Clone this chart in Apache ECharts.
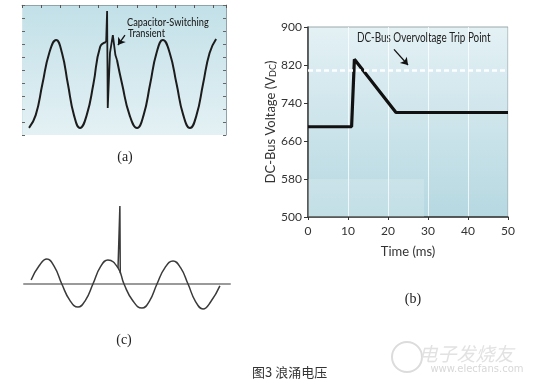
<!DOCTYPE html>
<html>
<head>
<meta charset="utf-8">
<script src="https://cdn.jsdelivr.net/npm/echarts@6/dist/echarts.min.js"></script>
<style>
html,body{margin:0;padding:0;background:#fff;}
#chart{width:535px;height:385px;}
</style>
</head>
<body>
<div id="chart"></div>
<script>
// ---- Panel (a): capacitor-switching transient (time ms, relative amplitude 0..100) ----
const aWaveT = [2.2, 4.3, 6.4, 8.55, 10.7, 12.55, 14.4, 16.3, 18.2, 20.3, 22.4, 24.5, 26.4, 28.0,
                29.8, 31.4, 33.75, 36.1, 38.15, 40.2, 42.2, 44.2, 46.35, 48.5, 50.6, 52.7, 54.75, 56.8, 58.85, 60.9];
const aWaveV = [5.4, 15.3, 39.2, 63.1, 73.1, 63.1, 39.2, 15.3, 5.4, 15.3, 39.2, 67.7, 71.5, null,
                57.7, 39.2, 15.3, 5.4, 15.3, 39.2, 63.1, 73.1, 63.1, 39.2, 15.3, 5.4, 15.3, 39.2, 63.1, 73.8];
const aSpikeT = [26.4, 26.7, 26.9, 27.6, 28.5, 29.3, 29.8];
const aSpikeV = [71.5, 95.4, 20.8, 63.1, 76.9, 61.5, 57.7];
const aArrow = [[32.3, 76.9], [30.1, 69.2]];
const aLabel = ['Capacitor-Switching', 'Transient'];

// ---- Panel (b): DC-bus voltage ----
const bTime = [0, 10.9, 11.6, 22, 50];
const bVolt = [690, 690, 832, 720, 720];
const bTrip = 810;
const bArrow = [[21.5, 853], [25, 820]];
const bXTicks = [0, 10, 20, 30, 40, 50];
const bYTicks = [500, 580, 660, 740, 820, 900];
const bTripLabel = 'DC-Bus Overvoltage Trip Point';

// ---- Panel (c): surge on sine ----
const cWaveT = [1.9, 4.0, 6.1, 8.1, 10.1, 12.25, 14.4, 16.4, 18.4, 20.4, 22.4, 25.1, 26.7,
                29.1, 31.5, 33.5, 35.5, 37.65, 39.8, 41.8, 43.8, 45.8, 47.8, 49.9, 52.3];
const cWaveV = [0.17, 0.75, 1.04, 0.72, 0, -0.68, -0.96, -0.68, 0, 0.71, 1.0, 0.67, 0,
                -0.71, -1.0, -0.71, 0, 0.68, 0.96, 0.68, 0, -0.73, -1.04, -0.73, -0.08];
const cSpikeT = [25.1, 25.6, 25.7];
const cSpikeV = [0.67, 3.25, 0.45];

const caption = '图3 浪涌电压';

const zip = (xs, ys) => xs.map((x, i) => [x, ys[i] === null ? '-' : ys[i]]);

const chart = echarts.init(document.getElementById('chart'), null, {renderer: 'canvas'});
const sans = 'Lato';

const option = {
  animation: false,
  grid: [
    {left: 22, top: 5, width: 204, height: 130, show: true, borderWidth: 0,
     backgroundColor: {type: 'linear', x: 0, y: 0, x2: 0, y2: 1,
       colorStops: [{offset: 0, color: '#c2e0e8'}, {offset: 1, color: '#e4f1f4'}]}},
    {left: 308, top: 27, width: 200, height: 190, show: true, borderColor: '#9aa8ac', borderWidth: 1,
     backgroundColor: {type: 'linear', x: 0, y: 0, x2: 0, y2: 1,
       colorStops: [{offset: 0, color: '#e4f1f5'}, {offset: 1, color: '#b6d8e1'}]}},
    {left: 24, top: 200, width: 206, height: 120}
  ],
  xAxis: [
    {gridIndex: 0, type: 'value', position: 'top', min: 0, max: 64, interval: 6,
     axisLine: {onZero: false, lineStyle: {color: '#8fa3aa'}},
     axisTick: {inside: true, length: 3, lineStyle: {color: '#555'}},
     axisLabel: {show: false}, splitLine: {show: false}},
    {gridIndex: 1, type: 'value', min: bXTicks[0], max: bXTicks[bXTicks.length - 1], interval: bXTicks[1] - bXTicks[0],
     name: 'Time (ms)', nameLocation: 'middle', nameGap: 28,
     nameTextStyle: {fontFamily: sans, fontSize: 13, color: '#333'},
     axisLine: {onZero: false, lineStyle: {color: '#333', width: 1.5}},
     axisTick: {length: 3, lineStyle: {color: '#333'}},
     axisLabel: {fontFamily: sans, fontSize: 12, color: '#333', margin: 8},
     splitLine: {show: true, lineStyle: {color: 'rgba(255,255,255,0.75)', width: 1}}},
    {gridIndex: 2, type: 'value', min: 0, max: 55,
     axisLine: {onZero: true, lineStyle: {color: '#9a9a9a', width: 2}},
     axisTick: {show: false}, axisLabel: {show: false}, splitLine: {show: false}}
  ],
  yAxis: [
    {gridIndex: 0, type: 'value', min: 0, max: 100, interval: 10, position: 'left',
     axisLine: {show: true, onZero: false, lineStyle: {color: '#d3e6ea'}},
     axisTick: {show: true, inside: true, length: 3, lineStyle: {color: '#666'}},
     axisLabel: {show: false}, splitLine: {show: false}},
    {gridIndex: 0, type: 'value', min: 0, max: 100, interval: 10, position: 'right',
     axisLine: {show: true, onZero: false, lineStyle: {color: '#8fa3aa'}},
     axisTick: {show: true, inside: true, length: 3, lineStyle: {color: '#666'}},
     axisLabel: {show: false}, splitLine: {show: false}},
    {gridIndex: 1, type: 'value', min: bYTicks[0], max: bYTicks[bYTicks.length - 1], interval: bYTicks[1] - bYTicks[0],
     name: 'DC-Bus Voltage (V{s|DC})', nameLocation: 'middle', nameRotate: 90, nameGap: 27,
     nameTextStyle: {fontFamily: sans, fontSize: 13, color: '#333', rich: {s: {fontFamily: sans, fontSize: 9, color: '#333', verticalAlign: 'bottom'}}},
     axisLine: {show: true, onZero: false, lineStyle: {color: '#333', width: 1.5}},
     axisTick: {show: true, length: 4, lineStyle: {color: '#333'}},
     axisLabel: {fontFamily: sans, fontSize: 12, color: '#333', margin: 6},
     splitLine: {show: false}},
    {gridIndex: 2, type: 'value', min: -1.5, max: 3.5, show: false}
  ],
  series: [
    {type: 'line', xAxisIndex: 0, yAxisIndex: 0, data: zip(aWaveT, aWaveV), smooth: 0.5,
     showSymbol: false, connectNulls: false, lineStyle: {color: '#1c1c1c', width: 2}},
    {type: 'line', xAxisIndex: 0, yAxisIndex: 0, data: zip(aSpikeT, aSpikeV), smooth: false,
     showSymbol: false, lineStyle: {color: '#1c1c1c', width: 1.8},
     markLine: {silent: true, symbol: ['none', 'arrow'], symbolSize: 7, label: {show: false},
       lineStyle: {color: '#111', width: 1.3, type: 'solid'},
       data: [[{coord: aArrow[0]}, {coord: aArrow[1]}]]}},
    {type: 'line', xAxisIndex: 1, yAxisIndex: 2, data: zip(bTime, bVolt), smooth: false,
     showSymbol: false, lineStyle: {color: '#111', width: 3.2},
     markArea: {silent: true, itemStyle: {color: 'rgba(255,255,255,0.18)'},
       data: [[{coord: [0, 500]}, {coord: [29, 580]}]]},
     markLine: {silent: true, label: {show: false}, symbol: ['none', 'none'], symbolSize: 7,
       data: [
         {yAxis: bTrip, lineStyle: {color: '#ffffff', width: 2.5, type: [5, 3], opacity: 0.95}},
         [{coord: bArrow[0], lineStyle: {color: '#111', width: 1.3, type: 'solid'}},
          {coord: bArrow[1], symbol: 'arrow'}]
       ]}},
    {type: 'line', xAxisIndex: 2, yAxisIndex: 3, data: zip(cWaveT, cWaveV), smooth: 0.5,
     showSymbol: false, lineStyle: {color: '#3a3a3a', width: 1.5}},
    {type: 'line', xAxisIndex: 2, yAxisIndex: 3, data: zip(cSpikeT, cSpikeV), smooth: false,
     showSymbol: false, lineStyle: {color: '#3a3a3a', width: 1.5}}
  ],
  graphic: [
    {type: 'text', x: 127, y: 22, scaleX: 0.8, style: {text: aLabel[0], font: '500 11.5px Lato', fill: '#222', align: 'left', verticalAlign: 'middle'}},
    {type: 'text', x: 128, y: 33, scaleX: 0.8, style: {text: aLabel[1], font: '500 11.5px Lato', fill: '#222', align: 'left', verticalAlign: 'middle'}},
    {type: 'text', x: 357, y: 38, scaleX: 0.79, style: {text: bTripLabel, font: '12.5px Lato', fill: '#222', align: 'left', verticalAlign: 'middle'}},
    {type: 'text', x: 125, y: 157, style: {text: '(a)', font: '14px "Liberation Serif"', fill: '#222', align: 'center', verticalAlign: 'middle'}},
    {type: 'text', x: 413, y: 299, style: {text: '(b)', font: '14px "Liberation Serif"', fill: '#222', align: 'center', verticalAlign: 'middle'}},
    {type: 'text', x: 124, y: 340, style: {text: '(c)', font: '14px "Liberation Serif"', fill: '#222', align: 'center', verticalAlign: 'middle'}},
    {type: 'text', x: 252, y: 372, style: {text: caption, font: '13px "Noto Sans CJK SC"', fill: '#333', align: 'left', verticalAlign: 'middle'}},
    {type: 'circle', shape: {cx: 407, cy: 357, r: 15}, style: {fill: 'none', stroke: '#dcdcdc', lineWidth: 2}},
    {type: 'text', x: 466, y: 354, style: {text: '电子发烧友', font: 'italic 19px "Noto Sans CJK SC"', fill: '#e2e2e2', align: 'center', verticalAlign: 'middle'}},
    {type: 'text', x: 477, y: 369, style: {text: 'www.elecfans.com', font: '10px "DejaVu Sans"', fill: '#d8d8d8', align: 'center', verticalAlign: 'middle'}}
  ]
};
chart.setOption(option);
</script>
</body>
</html>
